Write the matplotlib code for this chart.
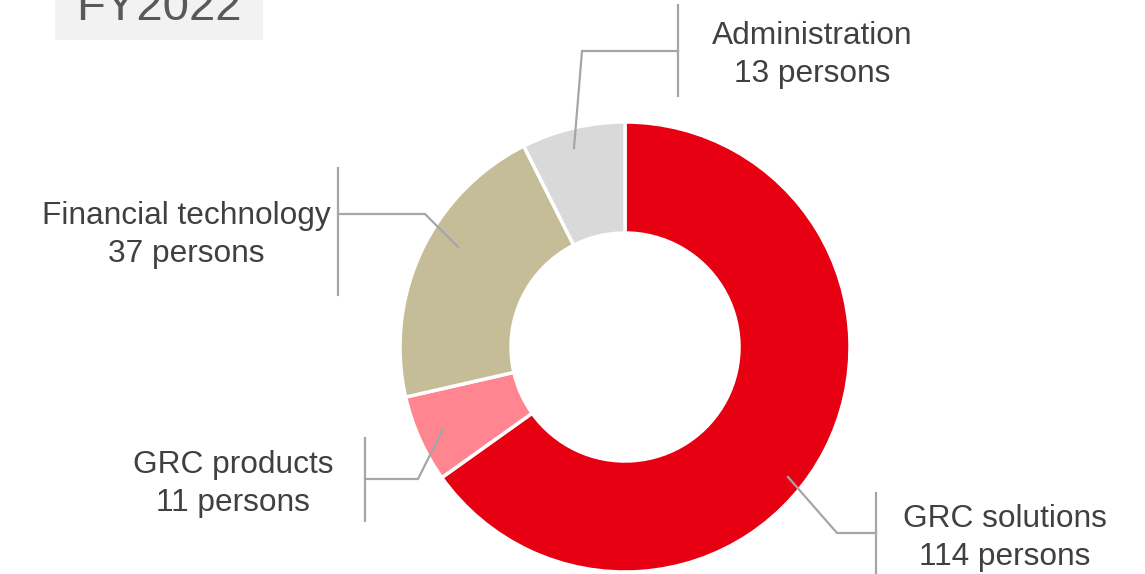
import matplotlib.pyplot as plt

plt.rcParams["font.family"] = ["Liberation Sans", "DejaVu Sans"]

# headcount by segment, FY2022
segments = ['GRC solutions', 'GRC products', 'Financial technology', 'Administration']
persons = [114, 11, 37, 13]
colors = ['#E60012', '#FF8591', '#C4BD97', '#D9D9D9']
title = 'FY2022'

W, H = 1145, 574
fig = plt.figure(figsize=(W / 100, H / 100), dpi=100)
ax = fig.add_axes([0, 0, 1, 1])

cx, cy, r = 625, H - 347, 225
ax.pie(persons, colors=colors, startangle=90, counterclock=False,
       center=(cx, cy), radius=r, frame=True,
       wedgeprops=dict(width=r - 114, edgecolor='white', linewidth=2.5))
ax.set_xlim(0, W)
ax.set_ylim(0, H)
ax.axis('off')

# leader lines (pixel coords from top) and label positions
leaders = [
    [(788, 477), (837, 533), (876, 533)],
    [(443, 429), (418, 479), (365, 479)],
    [(458, 247), (425, 214), (338, 214)],
    [(574, 148), (582, 51), (678, 51)],
]
bars = [(876, 493, 574), (365, 438, 521), (338, 168, 295), (678, 5, 96)]
label_xy = [(1005, 538), (233, 484), (186, 235), (812, 55)]

line_col = '#A6A6A6'
for i, name in enumerate(segments):
    pts = leaders[i]
    ax.plot([p[0] for p in pts], [H - p[1] for p in pts], color=line_col, lw=1.6,
            solid_joinstyle='miter')
    bx, y0, y1 = bars[i]
    ax.plot([bx, bx], [H - y0, H - y1], color=line_col, lw=1.6)
    lx, ly = label_xy[i]
    ax.text(lx, H - ly, '%s\n%d persons' % (name, persons[i]), ha='center', va='center',
            fontsize=22.8, color='#404040', linespacing=1.37)

# title box at the top left
ax.add_patch(plt.Rectangle((55, H - 40), 208, 45, facecolor='#F2F2F2', edgecolor='none'))
ax.text(159, H - 20, title, ha='center', va='baseline', fontsize=34, color='#595959')

fig.savefig('out.png', dpi=100)
